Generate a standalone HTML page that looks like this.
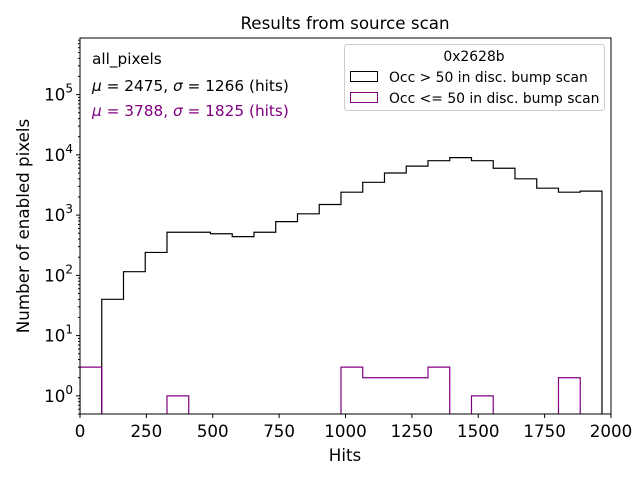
<!DOCTYPE html>
<html><head><meta charset="utf-8"><style>
body{margin:0;background:#fff}
svg{display:block;font-family:"DejaVu Sans","Liberation Sans",sans-serif}
</style></head><body>
<svg id="c" width="640" height="480"></svg>
<script>
const binEdgesStart = 0;
const binWidth = 1966/24;
const occHigh = [0,40,115,240,520,520,490,440,520,780,1050,1500,2400,3500,5000,6500,8000,9000,8000,6000,4000,2800,2400,2500];
const occLow = [3,0,0,0,1,0,0,0,0,0,0,0,3,2,2,2,3,0,1,0,0,0,2,0];
const xTicks = [0,250,500,750,1000,1250,1500,1750,2000];
const yTickExp = [0,1,2,3,4,5];
const X0=80,X1=611,Y0=38,Y1=414, xmin=0,xmax=2000, lmin=Math.log10(0.5), lmax=Math.log10(8.7e5);
const sx=v=>X0+(v-xmin)/(xmax-xmin)*(X1-X0);
const sy=v=>v<=0?Y1+20:Y1-(Math.log10(v)-lmin)/(lmax-lmin)*(Y1-Y0);
const svg=document.getElementById('c');const NS='http://www.w3.org/2000/svg';
function mk(t,a,p){const e=document.createElementNS(NS,t);for(const k in a)e.setAttribute(k,a[k]);(p||svg).appendChild(e);return e;}
function txt(s,a){const e=mk('text',a);e.textContent=s;return e;}
const defs=mk('defs',{});const cp=mk('clipPath',{id:'clip'},defs);mk('rect',{x:X0,y:Y0,width:X1-X0,height:Y1-Y0},cp);
function stepPath(vals){let d='';let started=false;
 for(let i=0;i<vals.length;i++){const xa=sx(binEdgesStart+i*binWidth),xb=sx(binEdgesStart+(i+1)*binWidth);
  const y=sy(vals[i]);
  if(!started){d+=`M${xa},${Y1+20}L${xa},${y}`;started=true;}else d+=`L${xa},${y}`;
  d+=`L${xb},${y}`;}
 d+=`L${sx(binEdgesStart+vals.length*binWidth)},${Y1+20}`;return d;}
let p=mk('path',{d:stepPath(occHigh),fill:'none',stroke:'#000','stroke-width':1.2,'clip-path':'url(#clip)'});


p=mk('path',{d:stepPath(occLow),fill:'none',stroke:'#800080','stroke-width':1.2,'clip-path':'url(#clip)'});


mk('rect',{x:X0,y:Y0,width:X1-X0,height:Y1-Y0,fill:'none',stroke:'#000','stroke-width':1});
xTicks.forEach(v=>{const x=sx(v);mk('line',{x1:x,x2:x,y1:Y1,y2:Y1+4,stroke:'#000'});
 const t=txt(String(v),{x:x,y:Y1+23,'text-anchor':'middle','font-size':16.7});
 });
for(let e=-1;e<=5;e++){for(let m=2;m<=9;m++){const v=m*Math.pow(10,e);if(v<0.5||v>8.7e5)continue;const y=sy(v);
 mk('line',{x1:X0-2,x2:X0,y1:y,y2:y,stroke:'#000'});}}
yTickExp.forEach(e=>{const y=sy(Math.pow(10,e));mk('line',{x1:X0-4,x2:X0,y1:y,y2:y,stroke:'#000'});
 const t=mk('text',{x:X0-7,y:y+6,'text-anchor':'end','font-size':16.7});
 t.innerHTML=`10<tspan dy="-8" font-size="12">${e}</tspan>`;
 });
let t=txt('Results from source scan',{x:345,y:29,'text-anchor':'middle','font-size':16.7});
t=txt('Hits',{x:345,y:461,'text-anchor':'middle','font-size':16.7});
t=txt('Number of enabled pixels',{x:29,y:226,'text-anchor':'middle','font-size':16.7,transform:'rotate(-90 29 226)'});
t=txt('all_pixels',{x:92,y:64,'font-size':15.3});
t=mk('text',{x:92,y:91,'font-size':15.3});t.innerHTML='<tspan font-style="italic">μ</tspan> = 2475, <tspan font-style="italic">σ</tspan> = 1266 (hits)';
t=mk('text',{x:92,y:116,'font-size':15.3,fill:'#800080'});t.innerHTML='<tspan font-style="italic">μ</tspan> = 3788, <tspan font-style="italic">σ</tspan> = 1825 (hits)';
const lg=mk('g',{});
mk('rect',{x:344.5,y:44.5,width:260,height:66,rx:3,fill:'#fff',stroke:'#ccc'},lg);
t=txt('0x2628b',{x:474,y:61,'text-anchor':'middle','font-size':13.9});lg.appendChild(t);
mk('rect',{x:350.5,y:71.5,width:27,height:10,fill:'none',stroke:'#000'},lg);
t=txt('Occ > 50 in disc. bump scan',{x:389,y:82,'font-size':13.9});lg.appendChild(t);
mk('rect',{x:350.5,y:92.5,width:27,height:10,fill:'none',stroke:'#800080'},lg);
t=txt('Occ <= 50 in disc. bump scan',{x:389,y:103,'font-size':13.9});lg.appendChild(t);
</script>
</body></html>
